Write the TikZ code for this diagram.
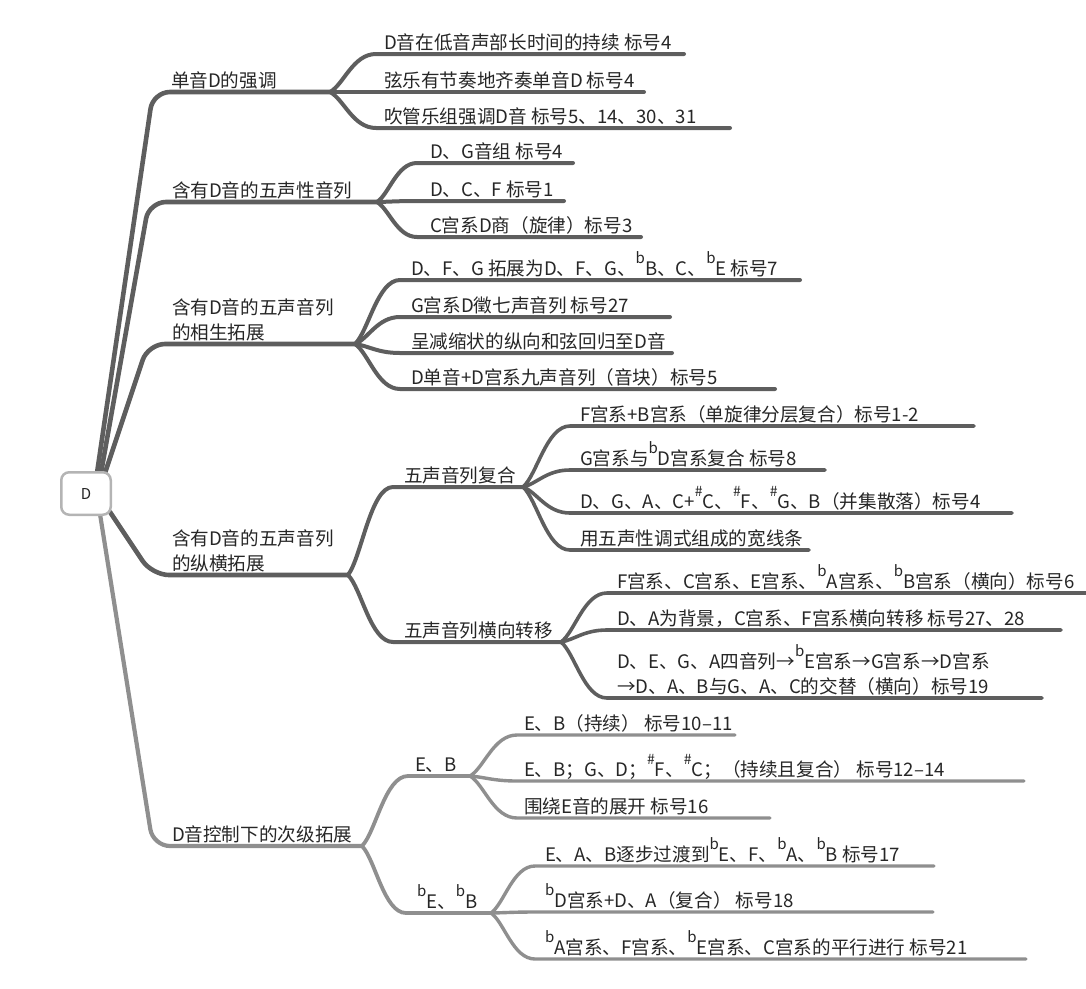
\documentclass[tikz,border=0pt]{standalone}
\usepackage{fontspec}
\setmainfont{Noto Sans CJK SC}
\usetikzlibrary{calc,backgrounds}
\definecolor{dk}{HTML}{5E5E5E}
\definecolor{lt}{HTML}{8F8F8F}
\definecolor{txt}{HTML}{262626}
\definecolor{bx}{HTML}{B4B4B4}
\newcommand\fb{\raisebox{0.6em}{\fontsize{15}{15}\selectfont b}}
\newcommand\shp{\raisebox{0.6em}{\fontsize{14}{14}\selectfont\#}}
\newcommand\sconn[4]{\draw[#1] let \p1=(#2), \p2=(#3) in (#2) .. controls ({\x1+0.3*(\x2-\x1)},{\y1+0.2*(\y2-\y1)}) and ({\x1+0.5*(\x2-\x1)},\y2) .. (#3) -- (#4);}
\begin{document}
\begin{tikzpicture}[x=1pt,y=-1pt,
  lbl/.style={anchor=base west, inner sep=0pt, outer sep=0pt, text=txt, font=\fontsize{18.6}{25}\selectfont, align=left},
  l1/.style={line width=4.6pt, line cap=round, line join=round, rounded corners=17pt, dk},
  l1b/.style={l1, lt, line width=4.2pt},
  l2/.style={line width=4pt, line cap=round, dk},
  l3/.style={line width=3.6pt, line cap=round, dk},
  l2b/.style={line width=3.8pt, line cap=round, lt},
  l3b/.style={line width=3.4pt, line cap=round, lt},
  rootbox/.style={draw=bx, line width=2.5pt, rounded corners=8pt, fill=white, minimum width=49.5pt, minimum height=42.5pt, inner sep=0pt, font=\fontsize{15}{15}\selectfont, text=txt}]
\useasboundingbox (0,0) rectangle (1086,988);

\node[rootbox] (root) at (86,493.5) {D};

% ---- coordinates
\coordinate (s1) at ($(root.north)+(11,2)$);
\coordinate (s2) at ($(root.north)+(15,2)$);
\coordinate (s3) at ($(root.north)+(19,2)$);
\coordinate (s4) at ($(root.south east)+(-2,-4)$);
\coordinate (s5) at ($(root.south)+(14,-2)$);
\coordinate (k1) at (153,92);  \coordinate (b1) at (330,92);
\coordinate (k2) at (149,202); \coordinate (b2) at (377,202);
\coordinate (k3) at (148,344); \coordinate (b3) at (355,344);
\coordinate (k4) at (152,575); \coordinate (b4) at (348,575);
\coordinate (k5) at (153,846); \coordinate (b5) at (362,846);

\begin{pgfonlayer}{background}
\draw[l1] (s1) -- (k1) -- (b1);
\draw[l1] (s2) -- (k2) -- (b2);
\draw[l1] (s3) -- (k3) -- (b3);
\draw[l1] (s4) -- (k4) -- (b4);
\draw[l1b] (s5) -- (k5) -- (b5);
\end{pgfonlayer}

% ---- branch 1
\node[lbl] (t1) at (171,87) {单音D的强调};
\coordinate (c11s) at (376,54);  \coordinate (c11e) at (684,54);
\coordinate (c12s) at (376,92);  \coordinate (c12e) at (644,92);
\coordinate (c13s) at (376,128); \coordinate (c13e) at (730,128);
\sconn{l2}{b1}{c11s}{c11e}
\sconn{l2}{b1}{c12s}{c12e}
\sconn{l2}{b1}{c13s}{c13e}
\node[lbl] (t11) at (384,49) {D音在低音声部长时间的持续 标号4};
\node[lbl] (t12) at (384,87) {弦乐有节奏地齐奏单音D 标号4};
\node[lbl] (t13) at (384,123) {吹管乐组强调D音 标号5、14、30、31};

% ---- branch 2
\node[lbl] (t2) at (172,197) {含有D音的五声性音列};
\coordinate (c21s) at (417,163); \coordinate (c21e) at (573,163);
\coordinate (c22s) at (417,201); \coordinate (c22e) at (564,201);
\coordinate (c23s) at (417,237); \coordinate (c23e) at (641,237);
\sconn{l2}{b2}{c21s}{c21e}
\sconn{l2}{b2}{c22s}{c22e}
\sconn{l2}{b2}{c23s}{c23e}
\node[lbl] (t21) at (430,158) {D、G音组 标号4};
\node[lbl] (t22) at (430,196) {D、C、F 标号1};
\node[lbl] (t23) at (430,232) {C宫系D商（旋律）标号3};

% ---- branch 3
\node[lbl] (t3) at (172,339) {含有D音的五声音列\\的相生拓展};
\coordinate (c31s) at (400,280); \coordinate (c31e) at (800,280);
\coordinate (c32s) at (400,317); \coordinate (c32e) at (670,317);
\coordinate (c33s) at (400,353); \coordinate (c33e) at (672,353);
\coordinate (c34s) at (400,389); \coordinate (c34e) at (775,389);
\sconn{l2}{b3}{c31s}{c31e}
\sconn{l2}{b3}{c32s}{c32e}
\sconn{l2}{b3}{c33s}{c33e}
\sconn{l2}{b3}{c34s}{c34e}
\node[lbl] (t31) at (411,275) {D、F、G 拓展为D、F、G、\fb B、C、\fb E 标号7};
\node[lbl] (t32) at (411,312) {G宫系D徵七声音列 标号27};
\node[lbl] (t33) at (411,348) {呈减缩状的纵向和弦回归至D音};
\node[lbl] (t34) at (411,384) {D单音+D宫系九声音列（音块）标号5};

% ---- branch 4
\node[lbl] (t4) at (172,570) {含有D音的五声音列\\的纵横拓展};
\coordinate (p41s) at (393,487); \coordinate (p41e) at (523,487);
\coordinate (p42s) at (393,642); \coordinate (p42e) at (561,642);
\sconn{l2}{b4}{p41s}{p41e}
\sconn{l2}{b4}{p42s}{p42e}
\node[lbl] (t41) at (404,482) {五声音列复合};
\node[lbl] (t42) at (404,637) {五声音列横向转移};
\coordinate (g1s) at (570,426); \coordinate (g1e) at (974,426);
\coordinate (g2s) at (570,470); \coordinate (g2e) at (825,470);
\coordinate (g3s) at (570,513); \coordinate (g3e) at (1012,513);
\coordinate (g4s) at (570,550); \coordinate (g4e) at (809,550);
\sconn{l3}{p41e}{g1s}{g1e}
\sconn{l3}{p41e}{g2s}{g2e}
\sconn{l3}{p41e}{g3s}{g3e}
\sconn{l3}{p41e}{g4s}{g4e}
\node[lbl] (t411) at (580,421) {F宫系+B宫系（单旋律分层复合）标号1-2};
\node[lbl] (t412) at (580,465) {G宫系与\fb D宫系复合 标号8};
\node[lbl] (t413) at (580,508) {D、G、A、C+\shp C、\shp F、\shp G、B（并集散落）标号4};
\node[lbl] (t414) at (580,545) {用五声性调式组成的宽线条};
\coordinate (h1s) at (607,593); \coordinate (h1e) at (1090,593);
\coordinate (h2s) at (607,630); \coordinate (h2e) at (1061,630);
\coordinate (h3s) at (607,698); \coordinate (h3e) at (1042,698);
\sconn{l3}{p42e}{h1s}{h1e}
\sconn{l3}{p42e}{h2s}{h2e}
\sconn{l3}{p42e}{h3s}{h3e}
\node[lbl] (t421) at (617,588) {F宫系、C宫系、E宫系、\fb A宫系、\fb B宫系（横向）标号6};
\node[lbl] (t422) at (617,625) {D、A为背景，C宫系、F宫系横向转移 标号27、28};
\node[lbl] (t423) at (617,693) {D、E、G、A四音列→\fb E宫系→G宫系→D宫系\\→D、A、B与G、A、C的交替（横向）标号19};

% ---- branch 5
\node[lbl] (t5) at (172,841) {D音控制下的次级拓展};
\coordinate (p51s) at (408,776); \coordinate (p51e) at (470,776);
\coordinate (p52s) at (406,913); \coordinate (p52e) at (491,913);
\sconn{l2b}{b5}{p51s}{p51e}
\sconn{l2b}{b5}{p52s}{p52e}
\node[lbl] (t51) at (415,771) {E、B};
\node[lbl] (t52) at (417,908) {\fb E、\fb B};
\coordinate (e1s) at (517,735); \coordinate (e1e) at (735,735);
\coordinate (e2s) at (517,781); \coordinate (e2e) at (1024,781);
\coordinate (e3s) at (517,818); \coordinate (e3e) at (770,818);
\sconn{l3b}{p51e}{e1s}{e1e}
\sconn{l3b}{p51e}{e2s}{e2e}
\sconn{l3b}{p51e}{e3s}{e3e}
\node[lbl] (t511) at (524,730) {E、B（持续） 标号10–11};
\node[lbl] (t512) at (524,776) {E、B；G、D；\shp F、\shp C；（持续且复合） 标号12–14};
\node[lbl] (t513) at (524,813) {围绕E音的展开 标号16};
\coordinate (f1s) at (535,866); \coordinate (f1e) at (934,866);
\coordinate (f2s) at (535,912); \coordinate (f2e) at (933,912);
\coordinate (f3s) at (535,959); \coordinate (f3e) at (1026,959);
\sconn{l3b}{p52e}{f1s}{f1e}
\sconn{l3b}{p52e}{f2s}{f2e}
\sconn{l3b}{p52e}{f3s}{f3e}
\node[lbl] (t521) at (545,861) {E、A、B逐步过渡到\fb E、F、\fb A、\fb B 标号17};
\node[lbl] (t522) at (545,907) {\fb D宫系+D、A（复合） 标号18};
\node[lbl] (t523) at (545,954) {\fb A宫系、F宫系、\fb E宫系、C宫系的平行进行 标号21};
\end{tikzpicture}
\end{document}
